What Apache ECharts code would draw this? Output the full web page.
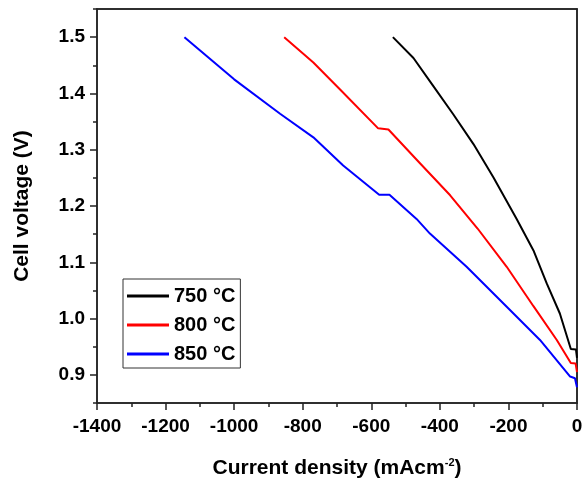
<!DOCTYPE html>
<html>
<head>
<meta charset="utf-8">
<script src="https://cdn.jsdelivr.net/npm/echarts@6/dist/echarts.min.js"></script>
<style>
html,body{margin:0;padding:0;background:#fff;}
#chart{width:583px;height:479px;}
</style>
</head>
<body>
<div id="chart"></div>
<script>
// Tick labels
var xTicks = [-1400, -1200, -1000, -800, -600, -400, -200, 0];
var yTicks = [0.9, 1.0, 1.1, 1.2, 1.3, 1.4, 1.5];
var yMinorTicks = [0.85, 0.95, 1.05, 1.15, 1.25, 1.35, 1.45, 1.55];

// Series names
var seriesNames = ['750 °C', '800 °C', '850 °C'];

// Series values: [current density (mA cm-2), cell voltage (V)]
var data750 = [[-537,1.500],[-477,1.463],[-419,1.413],[-361,1.363],[-302,1.310],[-244,1.251],[-176,1.177],[-127,1.121],[-88,1.062],[-50,1.009],[-18,0.946],[-3,0.945],[0,0.930]];
var data800 = [[-854,1.500],[-769,1.455],[-686,1.404],[-580,1.338],[-550,1.336],[-458,1.276],[-370,1.219],[-290,1.160],[-205,1.092],[-127,1.022],[-59,0.962],[-18,0.921],[-4,0.920],[0,0.905]];
var data850 = [[-1145,1.500],[-1000,1.425],[-866,1.364],[-769,1.322],[-682,1.272],[-577,1.220],[-547,1.220],[-468,1.177],[-429,1.151],[-322,1.092],[-205,1.021],[-108,0.962],[-20,0.897],[-6,0.894],[0,0.878]];

var colors = ['#000000', '#ff0000', '#0000ff'];
var font = 'Liberation Sans, Arial, sans-serif';
var axisColor = '#222';

var chart = echarts.init(document.getElementById('chart'), null, {renderer: 'canvas'});

function mkSeries(name, data, color) {
  return {
    name: name, type: 'line', data: data, symbol: 'none', showSymbol: false,
    lineStyle: {color: color, width: 2}, itemStyle: {color: color},
    xAxisIndex: 0, yAxisIndex: 0, animation: false
  };
}

var option = {
  animation: false,
  backgroundColor: '#ffffff',
  grid: {left: 97, right: 6, top: 9, bottom: 76, show: true, borderColor: axisColor, borderWidth: 1.5, backgroundColor: 'rgba(0,0,0,0)', outerBoundsMode: 'none', containLabel: false},
  legend: {
    data: seriesNames,
    orient: 'vertical',
    left: 123, top: 279,
    icon: 'rect',
    itemWidth: 42, itemHeight: 3, itemGap: 9,
    padding: [7, 5, 4, 4],
    borderColor: '#333', borderWidth: 1,
    textStyle: {fontFamily: font, fontWeight: 'bold', fontSize: 20, color: '#000'}
  },
  xAxis: [{
    type: 'value', min: -1400, max: 0, interval: 200, position: 'bottom',
    name: '{t|Current density (mAcm}{s|-2}{t|)}',
    nameLocation: 'middle', nameGap: 54,
    nameTextStyle: {rich: {
      t: {fontFamily: font, fontWeight: 'bold', fontSize: 21, color: '#000'},
      s: {fontFamily: font, fontWeight: 'bold', fontSize: 11, color: '#000', verticalAlign: 'top', padding: [0,0,12,0]}
    }},
    axisLine: {show: true, onZero: false, lineStyle: {color: axisColor, width: 1.5}},
    axisTick: {show: true, length: 7, lineStyle: {color: axisColor, width: 1.5}, customValues: xTicks},
    minorTick: {show: true, splitNumber: 2, length: 4, lineStyle: {color: axisColor, width: 1.5}},
    axisLabel: {margin: 14, fontFamily: font, fontWeight: 'bold', fontSize: 19, color: '#000', customValues: xTicks,
      formatter: function (v) { return String(v); }},
    splitLine: {show: false}
  }, {
    type: 'value', min: -1400, max: 0, interval: 200, position: 'top', gridIndex: 0, offset: 0,
    axisLine: {show: true, onZero: false, lineStyle: {color: axisColor, width: 1.5}},
    axisTick: {show: false}, axisLabel: {show: false}, splitLine: {show: false}
  }],
  yAxis: [{
    type: 'value', min: 0.85, max: 1.55, position: 'left',
    name: 'Cell voltage (V)', nameLocation: 'middle', nameGap: 64, nameRotate: 90,
    nameTextStyle: {fontFamily: font, fontWeight: 'bold', fontSize: 21, color: '#000'},
    axisLine: {show: true, onZero: false, lineStyle: {color: axisColor, width: 1.5}},
    axisTick: {show: true, length: 7, lineStyle: {color: axisColor, width: 1.5}, customValues: yTicks},
    axisLabel: {margin: 12, fontFamily: font, fontWeight: 'bold', fontSize: 19, color: '#000', customValues: yTicks,
      formatter: function (v) { return v.toFixed(1); }},
    splitLine: {show: false}
  }, {
    type: 'value', min: 0.85, max: 1.55, position: 'left',
    axisLine: {show: false, onZero: false},
    axisTick: {show: true, length: 4, lineStyle: {color: axisColor, width: 1.5}, customValues: yMinorTicks},
    axisLabel: {show: false, customValues: yMinorTicks},
    splitLine: {show: false}
  }, {
    type: 'value', min: 0.85, max: 1.55, position: 'right',
    axisLine: {show: true, onZero: false, lineStyle: {color: axisColor, width: 1.5}},
    axisTick: {show: false}, axisLabel: {show: false}, splitLine: {show: false}
  }],
  series: [
    mkSeries(seriesNames[0], data750, colors[0]),
    mkSeries(seriesNames[1], data800, colors[1]),
    mkSeries(seriesNames[2], data850, colors[2])
  ]
};
chart.setOption(option);
</script>
</body>
</html>
